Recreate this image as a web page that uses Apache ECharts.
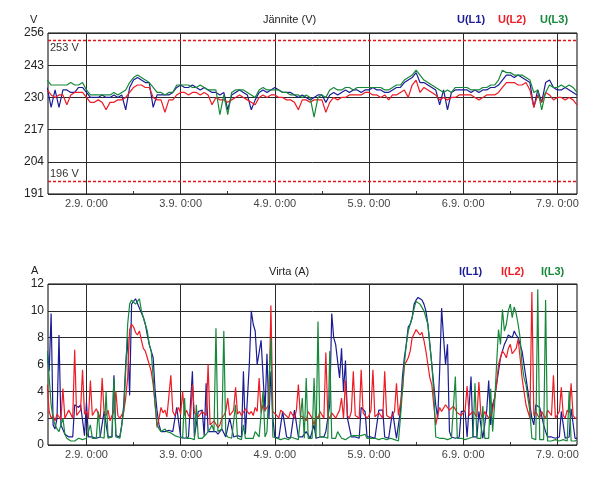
<!DOCTYPE html>
<html><head><meta charset="utf-8">
<script src="https://cdn.jsdelivr.net/npm/echarts@6/dist/echarts.min.js"></script>
<style>html,body{margin:0;padding:0;background:#fff}#c{width:602px;height:479px}</style>
</head><body><div id="c"></div>
<script>
// time base, hours relative to 2.9. 0:00
const voltStart = -10, voltStep = 1;      // voltage: hourly samples
const currStart = -10, currStep = 0.5;    // current: half-hourly samples
const dayHours = [0, 24, 48, 72, 96, 120];
const dayLabels = ['2.9. 0:00', '3.9. 0:00', '4.9. 0:00', '5.9. 0:00', '6.9. 0:00', '7.9. 0:00'];
const minorHours = [12, 36, 60, 84, 108];
const voltTicks = [191, 204, 217, 230, 243, 256];
const currTicks = [0, 2, 4, 6, 8, 10, 12];
const voltLimitHigh = 253;
const voltLimitLow = 196;
const voltNames = ['U(L1)', 'U(L2)', 'U(L3)'];
const currNames = ['I(L1)', 'I(L2)', 'I(L3)'];

const uL1 = [234,226,233,226,233,233,232,232,234,234,
232,230,230,230,231,230,230,231,230,231,225,234,
237,238,237,236,236,226,231,231,231,231,232,234,
235,234,234,235,234,233,234,233,232,232,231,232,
225,231,232,233,232,231,225,229,232,233,232,233,
234,233,232,232,232,231,230,231,230,229,230,231,
231,228,231,232,231,232,233,232,233,233,232,233,
233,234,233,233,232,232,233,234,234,236,237,238,
240,236,236,235,234,233,227,233,225,232,233,233,
233,233,232,233,232,233,233,234,234,235,237,239,
239,238,239,238,237,236,226,233,228,236,237,234,
233,233,234,233,232,231];
const uL2 = [233,231,230,231,231,227,231,232,232,232,
230,228,228,229,228,225,228,228,229,229,230,232,
234,235,235,234,234,230,229,229,224,229,229,231,
232,232,231,232,232,231,232,231,227,230,229,229,
228,229,230,231,230,229,228,227,230,231,230,231,
231,230,230,229,229,228,225,229,229,228,229,229,
229,224,228,230,229,230,230,231,231,231,231,232,
232,231,231,230,231,229,231,231,232,233,230,235,
237,232,234,233,232,231,229,230,229,230,230,231,
231,231,231,230,229,230,231,231,231,232,234,236,
236,236,235,235,236,233,226,231,228,232,231,229,
230,230,229,230,229,227];
const uL3 = [237,235,235,235,235,235,236,235,235,236,
233,231,231,231,231,231,231,232,231,232,233,236,
238,239,238,237,236,234,232,232,231,232,232,235,
235,235,235,234,234,235,234,233,233,233,223,231,
223,232,233,233,233,232,231,230,233,234,233,233,
233,233,232,232,231,231,231,230,231,230,222,230,
231,230,233,234,233,233,234,234,233,234,234,234,
234,234,234,234,233,233,234,235,235,237,238,239,
241,239,237,236,235,234,233,232,233,232,234,234,
234,234,233,233,233,234,234,235,235,237,241,240,
240,239,239,239,238,237,232,233,225,232,235,234,
234,235,234,235,234,232];

const iL1 = [
7.0,5.5, 9.8,1.5, 1.2,2.0, 8.2,1.5, 1.5,0.8, 0.8,0.6,
0.6,0.6, 3.0,3.0, 2.8,3.0, 2.9,0.7, 3.2,0.6, 0.6,0.6,
0.6,0.5, 0.5,0.6, 0.6,2.5, 2.5,0.6, 0.6,0.6, 5.2,0.7,
0.7,0.6, 1.5,3.0, 6.0,8.0, 3.7,10.5, 10.5,10.9, 10.8,10.2,
10.2,9.5, 9.0,8.2, 7.5,7.0, 6.5,4.0, 2.5,1.5, 1.0,1.0,
1.0,1.1, 1.1,1.0, 1.0,1.0, 2.8,2.8, 0.6,0.6, 0.5,0.6,
0.6,0.6, 5.5,0.6, 0.6,2.5, 2.5,2.6, 0.7,4.6, 1.0,1.0,
1.0,1.0, 1.0,0.8, 0.8,1.2, 1.2,0.6, 0.6,2.0, 2.0,0.6,
0.6,0.7, 0.7,0.6, 5.5,0.8, 0.8,6.0, 10.0,9.0, 8.5,6.0,
6.0,7.8, 7.8,2.5, 6.8,2.0, 5.5,2.0, 0.6,0.6, 0.5,0.5,
2.5,2.5, 0.6,0.6, 0.5,0.5, 2.6,2.6, 0.6,0.6, 0.6,0.5,
1.0,1.0, 0.5,0.5, 1.5,0.5, 0.5,0.6, 0.6,0.6, 1.0,1.0,
3.0,9.8, 8.0,7.5, 7.5,5.0, 7.2,4.0, 6.3,2.0, 2.0,0.6,
0.6,0.6, 0.5,0.5, 2.8,2.8, 2.5,0.6, 0.6,0.6, 0.5,0.5,
0.5,2.6, 2.6,2.6, 0.6,0.6, 0.5,0.5, 2.5,2.5, 0.5,0.5,
2.5,5.0, 6.5,7.5, 8.8,9.0, 9.5,10.5, 10.8,11.0, 11.0,10.8,
10.5,10.0, 9.0,7.5, 6.0,4.5, 3.0,2.0, 5.5,10.2, 8.0,6.0,
7.5,1.0, 0.6,0.6, 0.5,0.5, 0.6,2.5, 2.5,2.5, 0.6,0.6,
5.1,0.6, 0.6,0.6, 2.5,2.5, 0.5,0.5, 2.6,4.8, 1.5,3.0,
3.5,4.5, 5.5,6.5, 7.0,7.5, 7.8,8.2, 8.3,8.0, 8.5,8.2,
8.0,7.5, 7.0,6.0, 5.0,4.0, 3.0,2.0, 1.5,3.0, 3.0,2.8,
2.8,1.5, 1.0,0.6, 0.6,0.6, 0.5,0.5, 0.6,0.6, 2.5,2.5,
0.5,0.5, 0.6,2.7, 2.7,0.5,
0.5];
const iL2 = [
4.5,2.5, 2.0,2.2, 1.8,2.3, 2.2,1.9, 4.2,2.0, 2.0,2.6,
2.5,2.0, 7.1,2.2, 2.2,2.6, 5.6,2.3, 2.5,2.0, 4.8,2.2,
2.3,2.7, 2.6,2.0, 5.0,2.4, 2.2,2.6, 1.8,2.2, 2.5,4.0,
2.2,2.0, 2.0,2.5, 3.5,5.0, 8.6,9.0, 8.8,8.4, 8.2,8.5,
7.8,7.2, 7.0,6.5, 6.0,5.5, 4.5,3.0, 1.3,2.0, 2.8,2.4,
2.6,2.1, 2.2,5.2, 2.5,2.2, 2.5,2.8, 2.3,4.0, 2.2,2.6,
2.2,2.0, 4.5,2.4, 2.5,2.1, 2.0,2.5, 2.6,2.2, 6.0,1.5,
1.5,1.8, 1.8,1.3, 1.5,2.0, 2.2,2.5, 3.5,2.2, 2.4,2.6,
4.3,2.3, 2.5,2.2, 2.2,2.7, 2.6,2.3, 2.5,2.2, 2.8,2.5,
5.0,2.4, 3.0,2.6, 2.6,3.0, 10.4,2.5, 2.5,2.2, 2.0,2.6,
2.6,2.3, 2.2,2.0, 2.5,2.4, 2.0,2.6, 4.5,2.2, 2.3,2.0,
1.8,2.5, 2.5,2.0, 1.5,2.2, 2.0,2.5, 2.5,2.0, 6.9,2.2,
2.0,2.4, 2.5,2.0, 2.0,2.6, 3.5,2.0, 4.8,2.2, 2.0,2.5,
5.5,2.2, 2.3,2.0, 5.6,2.4, 2.5,2.0, 2.2,2.6, 5.6,2.1,
2.0,2.4, 2.4,2.0, 5.5,2.2, 2.3,2.0, 2.0,2.5, 4.6,2.2,
2.3,4.0, 6.0,6.2, 6.5,7.0, 8.0,8.3, 8.6,8.4, 8.2,8.4,
7.8,7.0, 6.0,5.0, 4.5,3.0, 1.5,2.2, 2.8,2.5, 2.5,3.0,
3.0,2.6, 2.6,2.9, 2.8,2.4, 2.5,2.2, 2.3,2.6, 4.4,2.2,
2.2,2.5, 2.6,2.1, 4.7,2.3, 2.0,2.5, 2.5,2.0, 2.2,2.6,
3.5,4.5, 6.0,6.5, 7.0,6.8, 6.5,7.2, 7.5,6.8, 6.8,7.2,
7.9,6.5, 5.0,4.0, 3.0,2.5, 2.0,11.4, 2.2,2.5, 2.2,2.0,
2.5,2.2, 2.0,2.6, 2.6,2.2, 5.2,2.0, 2.0,2.5, 4.3,2.2,
2.0,2.6, 2.4,4.6, 2.2,2.0,
2.0];
const iL3 = [
7.0,5.0, 3.0,2.0, 1.5,1.2, 1.0,1.5, 2.0,0.8, 0.5,0.5,
0.3,0.3, 0.3,0.3, 0.5,0.4, 0.4,0.4, 0.5,0.5, 1.5,0.5,
0.5,0.5, 2.5,0.6, 0.6,0.5, 4.0,0.5, 0.5,0.6, 5.0,0.6,
0.6,0.5, 1.5,2.5, 5.5,9.0, 10.5,10.8, 10.8,10.5, 10.7,10.9,
10.0,9.5, 9.0,8.5, 7.5,7.0, 7.0,3.0, 1.5,1.2, 1.0,1.0,
1.2,1.0, 1.0,0.9, 0.8,0.7, 0.6,0.6, 0.5,0.5, 3.5,0.5,
0.5,0.5, 0.4,0.4, 3.0,0.5, 0.5,0.5, 0.6,0.8, 1.0,1.2,
1.5,1.0, 8.7,1.0, 1.0,1.2, 8.5,0.8, 0.6,0.6, 0.5,0.5,
3.0,0.5, 0.4,0.4, 1.5,0.5, 0.5,0.5, 0.5,0.5, 1.0,1.0,
0.6,0.6, 4.0,0.6, 1.0,1.0, 8.0,0.6, 0.5,0.5, 0.4,0.4,
0.5,0.5, 0.4,0.4, 0.6,0.6, 0.5,0.5, 0.4,0.4, 3.5,0.5,
5.0,0.5, 0.5,0.5, 5.0,0.5, 9.2,0.6, 0.6,0.6, 0.5,0.5,
7.0,0.5, 0.5,0.5, 1.0,1.0, 0.5,0.5, 0.4,0.4, 0.6,0.6,
0.7,0.7, 0.7,0.7, 0.7,0.7, 0.8,0.5, 0.5,0.5, 0.5,0.5,
0.4,0.4, 0.5,0.5, 0.4,0.4, 0.5,0.5, 0.4,0.4, 0.3,0.3,
2.0,4.0, 6.0,7.5, 8.5,9.0, 9.5,10.2, 10.7,10.8, 10.5,10.6,
10.0,9.5, 9.0,7.5, 6.0,4.0, 0.6,0.6, 0.5,0.5, 0.5,0.5,
0.4,0.4, 0.5,0.5, 5.1,0.5, 0.5,0.5, 0.4,0.4, 0.5,0.5,
0.6,0.6, 4.6,0.5, 0.5,0.5, 2.9,0.5, 0.5,0.5, 4.2,1.0,
3.0,6.0, 8.6,7.5, 10.1,8.5, 9.0,10.0, 10.5,9.5, 10.3,9.8,
9.0,8.0, 6.0,5.0, 4.5,3.5, 2.5,0.5, 0.5,0.4, 11.6,0.4,
0.4,0.4, 10.8,0.3, 0.3,0.3, 0.4,0.4, 0.3,0.3, 0.4,0.4,
0.3,0.3, 4.0,0.3, 0.3,0.3,
0.4];

const C1 = '#1c1c96', C2 = '#ee1c24', C3 = '#16883a';
const LIMIT = '#e8141c';
const FONT = 'Liberation Sans';
const X_MIN = -9.8, X_MAX = 125;

function pairs(arr, start, step) { return arr.map((v, i) => [start + i * step, v]); }

function xMain(gi) {
  return {
    type: 'value', gridIndex: gi, min: X_MIN, max: X_MAX,
    axisLine: { show: false },
    axisTick: { show: false, customValues: dayHours },
    axisLabel: { customValues: dayHours, formatter: v => dayLabels[dayHours.indexOf(v)] || '',
      color: '#444', fontSize: 11, fontFamily: FONT, margin: 4 },
    splitLine: { show: true, lineStyle: { color: '#2a2a2a', width: 1 } }
  };
}
function xMinor(gi) {
  return {
    type: 'value', gridIndex: gi, min: X_MIN, max: X_MAX, position: 'bottom',
    axisLine: { show: false },
    axisTick: { show: true, inside: true, length: 3, customValues: minorHours, lineStyle: { color: '#333' } },
    axisLabel: { show: false, customValues: minorHours },
    splitLine: { show: false }
  };
}
function yAxis(gi, ticks) {
  return {
    type: 'value', gridIndex: gi, min: ticks[0], max: ticks[ticks.length - 1],
    axisLine: { show: false },
    axisTick: { show: false, customValues: ticks },
    axisLabel: { customValues: ticks, color: '#222', fontSize: 12, fontFamily: FONT, margin: 4 },
    splitLine: { show: true, lineStyle: { color: '#2a2a2a', width: 1 } }
  };
}
function line(name, data, start, step, color, xi, yi, extra) {
  return Object.assign({
    name, type: 'line', xAxisIndex: xi, yAxisIndex: yi, data: pairs(data, start, step),
    symbol: 'none', lineStyle: { color, width: 1.2 }, itemStyle: { color },
    animation: false, z: 3
  }, extra || {});
}
function legendItem(name, color, top, left) {
  return {
    top, left, icon: 'none', itemWidth: 0, itemHeight: 0,
    selectedMode: false, padding: 0,
    textStyle: { fontSize: 11, fontWeight: 'bold', fontFamily: FONT, color },
    data: [{ name, textStyle: { color, fontWeight: 'bold' } }]
  };
}
function limitMark(value, pos) {
  const ls = { color: LIMIT, type: [3, 2], width: 1.3, opacity: 1 };
  return {
    silent: true, symbol: 'none', z: 5, precision: 0,
    lineStyle: ls,
    label: { color: '#333', fontSize: 11, fontFamily: FONT },
    data: [{ yAxis: value, lineStyle: ls, label: { position: pos, formatter: value + ' V', distance: [2, 2], color: '#333' } }]
  };
}
const tStyle = { fontSize: 11, fontWeight: 'normal', color: '#222', fontFamily: FONT };

const chart = echarts.init(document.getElementById('c'));
chart.setOption({
  backgroundColor: '#fff',
  animation: false,
  title: [
    { text: 'V', left: 30, top: 14, padding: 0, textStyle: tStyle },
    { text: 'Jännite (V)', left: 263, top: 14, padding: 0, textStyle: tStyle },
    { text: 'A', left: 31, top: 265, padding: 0, textStyle: tStyle },
    { text: 'Virta (A)', left: 269, top: 266, padding: 0, textStyle: tStyle }
  ],
  legend: [
    legendItem(voltNames[0], C1, 14, 452),
    legendItem(voltNames[1], C2, 14, 493),
    legendItem(voltNames[2], C3, 14, 535),
    legendItem(currNames[0], C1, 266, 454),
    legendItem(currNames[1], C2, 266, 496),
    legendItem(currNames[2], C3, 266, 536)
  ],
  grid: [
    { left: 48, right: 25, top: 33, height: 161, show: true, borderColor: '#000', borderWidth: 1, backgroundColor: 'transparent' },
    { left: 48, right: 25, top: 284, height: 161, show: true, borderColor: '#000', borderWidth: 1, backgroundColor: 'transparent' }
  ],
  xAxis: [xMain(0), xMinor(0), xMain(1), xMinor(1)],
  yAxis: [yAxis(0, voltTicks), yAxis(1, currTicks)],
  series: [
    line(voltNames[0], uL1, voltStart, voltStep, C1, 0, 0, { markLine: limitMark(voltLimitHigh, 'insideStartBottom') }),
    line(voltNames[1], uL2, voltStart, voltStep, C2, 0, 0, { markLine: limitMark(voltLimitLow, 'insideStartTop') }),
    line(voltNames[2], uL3, voltStart, voltStep, C3, 0, 0),
    line(currNames[0], iL1, currStart, currStep, C1, 2, 1),
    line(currNames[1], iL2, currStart, currStep, C2, 2, 1),
    line(currNames[2], iL3, currStart, currStep, C3, 2, 1)
  ]
});
</script>
</body></html>
